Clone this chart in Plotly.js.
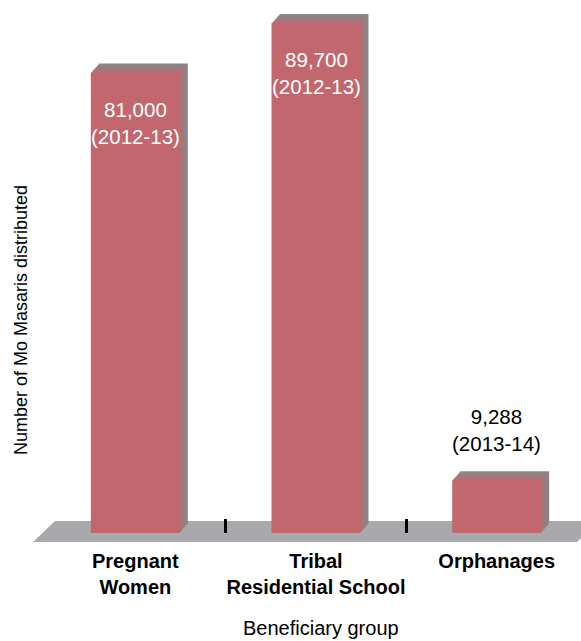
<!DOCTYPE html>
<html>
<head>
<meta charset="utf-8">
<script src="https://cdn.plot.ly/plotly-3.0.1.min.js"></script>
<style>html,body{margin:0;padding:0;background:#fff;}#chart{width:581px;height:641px;}</style>
</head>
<body>
<div id="chart"></div>
<script>
// ---- data ----
const categories = ['Pregnant<br>Women', 'Tribal<br>Residential School', 'Orphanages'];
const values = [81000, 89700, 9288];
const periods = ['2012-13', '2012-13', '2013-14'];
const labelInside = [true, true, false];
const xAxisTitle = 'Beneficiary group';
const yAxisTitle = 'Number of Mo Masaris distributed';

// ---- style ----
const FONT = 'Liberation Sans, Arial, Helvetica, sans-serif';
const W = 581, H = 641;
const M = {l: 54, r: 3, t: 10, b: 108};
const xRange = [-0.45, 2.45];
const yRange = [0, 92000];
const plotW = W - M.l - M.r, plotH = H - M.t - M.b;
const pxX = (xRange[1] - xRange[0]) / plotW;   // category units per pixel
const pxY = (yRange[1] - yRange[0]) / plotH;   // data units per pixel
const barW = 89 * pxX;
const barOff = -barW / 2;
const front = [194, 103, 110];
const back = [136, 134, 134];
const depthX = 8, depthY = 9, layers = 8;

function mix(a, b, t) {
  return 'rgb(' + a.map((v, i) => Math.round(v + (b[i] - v) * t)).join(',') + ')';
}

const traces = [];
for (let k = layers; k >= 1; k--) {
  const f = k / layers;
  traces.push({
    type: 'bar', x: categories, y: values,
    base: values.map(() => f * depthY * pxY),
    width: barW, offset: barOff + f * depthX * pxX,
    marker: {color: mix(front, back, Math.pow(f, 0.6)), line: {width: 0}},
    hoverinfo: 'skip', showlegend: false
  });
}
traces.push({
  type: 'bar', x: categories, y: values,
  width: barW, offset: barOff,
  marker: {color: mix(front, front, 0), line: {width: 0}},
  hoverinfo: 'skip', showlegend: false
});

const annotations = categories.map((c, i) => ({
  x: c, y: values[i], xref: 'x', yref: 'y',
  text: values[i].toLocaleString('en-US') + '<br>(' + periods[i] + ')',
  showarrow: false,
  xanchor: 'center',
  yanchor: labelInside[i] ? 'top' : 'bottom',
  yshift: labelInside[i] ? -23 : 23,
  font: {family: FONT, size: 20.5, color: labelInside[i] ? '#ffffff' : '#000000'}
}));
annotations.push({
  text: yAxisTitle, xref: 'paper', yref: 'paper', x: 0, y: (533 - 320) / plotH,
  xshift: -33, textangle: -90, showarrow: false, xanchor: 'center', yanchor: 'middle',
  font: {family: FONT, size: 18, color: '#000'}
});
annotations.push({
  text: xAxisTitle, xref: 'paper', yref: 'paper', x: 0.5, y: (533 - 628) / plotH,
  xshift: 5, showarrow: false, xanchor: 'center', yanchor: 'middle',
  font: {family: FONT, size: 20, color: '#000'}
});

function px2paperX(p) { return (p - M.l) / plotW; }
function px2paperY(p) { return (H - M.b - p) / plotH; }
const floorPath = 'M ' + px2paperX(55) + ' ' + px2paperY(521) +
  ' L ' + px2paperX(599) + ' ' + px2paperY(521) +
  ' L ' + px2paperX(577) + ' ' + px2paperY(542) +
  ' L ' + px2paperX(33) + ' ' + px2paperY(542) + ' Z';

const layout = {
  width: W, height: H,
  margin: M,
  paper_bgcolor: '#ffffff', plot_bgcolor: 'rgba(0,0,0,0)',
  barmode: 'overlay',
  showlegend: false,
  font: {family: FONT, color: '#000'},
  xaxis: {
    type: 'category', range: xRange, fixedrange: true,
    showgrid: false, zeroline: false, showline: false,
    tickson: 'boundaries', ticks: 'inside', ticklen: 14, tickwidth: 2.5, tickcolor: '#000',
    ticklabelstandoff: 14, tickangle: 0,
    tickfont: {family: FONT, size: 20, color: '#000', weight: 'bold'}
  },
  yaxis: {range: yRange, visible: false, fixedrange: true},
  shapes: [{
    type: 'path', xref: 'paper', yref: 'paper', path: floorPath,
    fillcolor: '#a7a9ac', line: {width: 0}, layer: 'below'
  }],
  annotations: annotations
};

Plotly.newPlot('chart', traces, layout, {staticPlot: true, displayModeBar: false});
</script>
</body>
</html>
